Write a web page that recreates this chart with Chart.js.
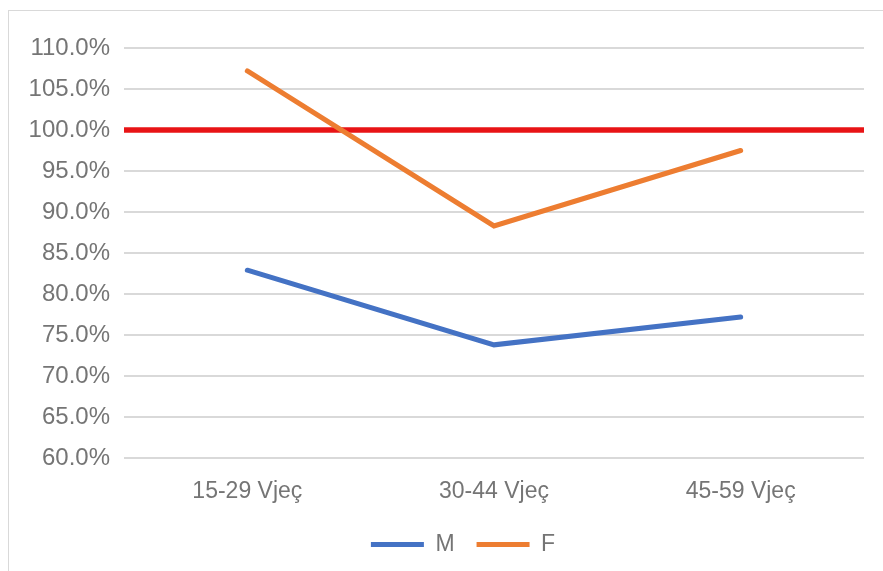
<!DOCTYPE html>
<html>
<head>
<meta charset="utf-8">
<script src="https://cdn.jsdelivr.net/npm/chart.js@4"></script>
<style>
  html, body { margin: 0; padding: 0; background: #fff; }
  #wrap { position: relative; width: 883px; height: 571px; overflow: hidden; }
  #frame { position: absolute; left: 8px; top: 10px; width: 900px; height: 600px; border: 1px solid #d9d9d9; box-sizing: border-box; }
  canvas { position: absolute; left: 0; top: 0; }
</style>
</head>
<body>
<div id="wrap">
  <div id="frame"></div>
  <canvas id="myChart" width="883" height="571"></canvas>
</div>
<script>
// categories and values (percent)
var ageGroups = ["15-29 Vjeç", "30-44 Vjeç", "45-59 Vjeç"];
var maleValues = [82.9, 73.8, 77.2];
var femaleValues = [107.2, 88.3, 97.5];
var parityLevel = [100, 100];

var labelFont = "Liberation Sans, Arial, sans-serif";

// the y axis box is narrowed so the legend sits where it should;
// widen it back after layout so its tick labels are not clipped
var widenYAxis = {
  id: "widenYAxis",
  afterLayout: (chart) => {
    chart.scales.y.left = 0;
  },
};

var ctx = document.getElementById("myChart").getContext("2d");
var chart = new Chart(ctx, {
  type: "line",
  data: {
    labels: ageGroups,
    datasets: [
      {
        label: "M",
        data: maleValues,
        borderColor: "#4472C4",
        backgroundColor: "#4472C4",
        borderWidth: 5,
        borderCapStyle: "round",
        borderJoinStyle: "miter",
        pointRadius: 0,
        pointStyle: "line",
      },
      {
        label: "F",
        data: femaleValues,
        borderColor: "#ED7D31",
        backgroundColor: "#ED7D31",
        borderWidth: 5,
        borderCapStyle: "round",
        borderJoinStyle: "miter",
        pointRadius: 0,
        pointStyle: "line",
      },
      {
        // 100% reference line across the whole plot
        label: "100%",
        data: parityLevel.map((v, i) => ({ x: i, y: v })),
        xAxisID: "x2",
        borderColor: "#E81416",
        borderWidth: 5.5,
        pointRadius: 0,
      },
    ],
  },
  plugins: [widenYAxis],
  options: {
    responsive: false,
    animation: false,
    layout: { padding: { left: 62, top: 48, right: 19, bottom: 5 } },
    plugins: {
      tooltip: { enabled: false },
      legend: {
        position: "bottom",
        labels: {
          filter: (item) => item.datasetIndex < 2,
          usePointStyle: true,
          pointStyleWidth: 53,
          color: "#757575",
          font: { family: labelFont, size: 23 },
          padding: 22,
        },
      },
    },
    scales: {
      x: {
        offset: true,
        grid: { display: false },
        border: { display: false },
        ticks: {
          color: "#757575",
          font: { family: labelFont, size: 23 },
          padding: 12,
          maxRotation: 0,
        },
        afterFit: (scale) => { scale.height = 53; },
      },
      x2: {
        type: "linear",
        display: false,
        min: 0,
        max: 1,
      },
      y: {
        min: 60,
        max: 110,
        grid: { color: "#d9d9d9", lineWidth: 2, drawTicks: false },
        border: { display: false },
        ticks: {
          stepSize: 5,
          color: "#757575",
          font: { family: labelFont, size: 24 },
          padding: 14,
          callback: (v) => v.toFixed(1) + "%",
        },
        afterFit: (scale) => { scale.width = 62; },
      },
    },
  },
});
</script>
</body>
</html>
